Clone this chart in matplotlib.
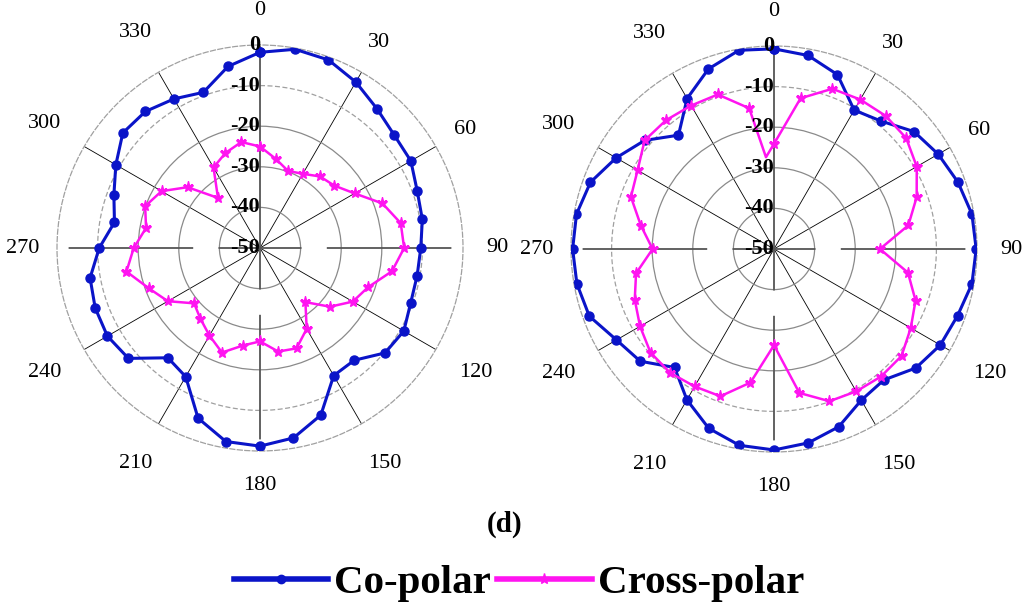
import numpy as np
import matplotlib
matplotlib.use("Agg")
import matplotlib.pyplot as plt
from matplotlib.lines import Line2D

plt.rcParams['font.family'] = ['Liberation Serif', 'DejaVu Serif']

# angles in degrees, 10 degree step
angles = np.arange(0, 360, 10)

# left pattern
left_co = [-1.8, -0.3, -0.7, -2.8, -5.2, -6.8, -7.1, -8.8, -9.4, -10.4, -10.7, -10.5,
           -9.1, -9.8, -13.9, -13.7, -6.2, -2.5, -1.2, -1.6, -5.4, -13.4, -14.7, -7.7,
           -6.6, -6.8, -7.5, -10.4, -13.6, -11.7, -9.0, -5.9, -6.1, -7.6, -9.2, -4.6]
left_cross = [-25.0, -27.7, -29.8, -28.9, -27.0, -26.1, -23.1, -17.9, -14.8, -14.5, -17.0, -21.7,
              -23.6, -27.5, -32.6, -27.0, -23.7, -24.1, -27.0, -25.6, -22.6, -25.1, -27.2, -28.8,
              -23.8, -20.9, -16.6, -18.9, -21.5, -19.9, -22.0, -26.7, -33.9, -27.1, -25.1, -23.5]

# right pattern
right_co = [-0.7, -1.6, -4.3, -10.5, -8.9, -5.0, -3.3, -1.8, -0.5, -0.2, -0.5, -1.9,
            -2.7, -4.4, -7.9, -7.0, -3.4, -1.5, -0.5, -0.9, -3.0, -7.1, -11.9, -7.0,
            -5.2, -1.6, -0.7, -0.4, -0.6, -1.9, -5.1, -8.4, -13.4, -7.2, -2.8, -0.3]
right_cross = [-24.1, -12.3, -8.0, -7.5, -7.2, -7.5, -9.4, -12.6, -16.4, -23.9, -16.5, -12.9,
               -11.1, -9.0, -9.0, -9.5, -10.1, -14.0, -26.3, -16.6, -11.4, -10.9, -10.2, -10.3,
               -11.9, -13.5, -15.5, -20.1, -16.7, -12.5, -11.2, -8.4, -8.6, -9.2, -9.5, -14.8]
# extra sample just before 360 on the right cross-polar trace
right_cross_extra_angle = 355
right_cross_extra_val = -27.3

r_ticks = [0, -10, -20, -30, -40, -50]
theta_ticks = np.arange(0, 360, 30)

BLUE = '#0a14c8'
PINK = '#ff14f0'


def closed(th, vals):
    return np.deg2rad(np.append(th, 360)), np.append(vals, vals[0])


def setup(ax):
    ax.set_theta_zero_location('N')
    ax.set_theta_direction(-1)
    ax.set_ylim(-50, 0)
    ax.set_xticks(np.deg2rad([30, 60, 120, 150, 210, 240, 300, 330]))
    ax.set_xticklabels([])
    ax.set_yticks([-40, -30, -20, -10])
    ax.set_yticklabels([])
    ax.xaxis.grid(True, color='black', lw=0.6, ls='-')
    ax.yaxis.grid(True, color='#8a8a8a', lw=0.9)
    for g, val in zip(ax.yaxis.get_gridlines(), [-40, -30, -20, -10]):
        if val == -10:
            g.set_linestyle((0, (4, 2)))
            g.set_color('#a0a0a0')
    ax.spines['polar'].set_linestyle((0, (4, 2)))
    ax.spines['polar'].set_color('#a0a0a0')
    ax.spines['polar'].set_linewidth(0.9)
    ax.set_axisbelow(True)
    # main axes lines
    ax.plot([0, 0], [-50, 0], color='#555555', lw=1.3, zorder=1)
    for a in [90, 180, 270]:
        ax.plot(np.deg2rad([a, a]), [-50, 0], color='#555555', lw=1.3,
                dashes=(23, 14, 69, 12, 40, 10), zorder=1)
    for t in theta_ticks:
        lab = str(t)
        rr = 11.3 if (len(lab) == 3 and t % 90 != 0) else 8.4
        ax.text(np.deg2rad(t), rr, lab, ha='center', va='center', fontsize=16,
                clip_on=False)
    for r in r_ticks:
        ax.text(0, r, str(r), ha='right', va='center', fontsize=16, fontweight='bold',
                zorder=5, clip_on=False)


fig = plt.figure(figsize=(10.24, 6.07), dpi=100)
W, H = 1024, 607
R = 203
axL = fig.add_axes([(260 - R) / W, (H - 248 - R) / H, 2 * R / W, 2 * R / H], projection='polar')
axR = fig.add_axes([(774 - R) / W, (H - 249 - R) / H, 2 * R / W, 2 * R / H], projection='polar')

for ax in (axL, axR):
    setup(ax)

th, v = closed(angles, left_co)
axL.plot(th, v, color=BLUE, lw=2.2, marker='o', ms=6.5, zorder=3)
th, v = closed(angles, left_cross)
axL.plot(th, v, color=PINK, lw=1.8, marker='*', ms=8, zorder=3)

th, v = closed(angles, right_co)
axR.plot(th, v, color=BLUE, lw=2.2, marker='o', ms=6.5, zorder=3)
th_rc = np.deg2rad(np.append(angles, [right_cross_extra_angle, 360]))
v_rc = np.append(right_cross, [right_cross_extra_val, right_cross[0]])
axR.plot(th_rc, v_rc, color=PINK, lw=1.8, marker='*', ms=8, zorder=4,
         markevery=list(range(len(angles))))

fig.text(505 / W, 1 - 524 / H, '(d)', ha='center', va='center', fontsize=21,
         fontweight='bold')

handles = [Line2D([], [], color=BLUE, lw=4, marker='o', ms=6),
           Line2D([], [], color=PINK, lw=4, marker='*', ms=8)]
fig.legend(handles, ['Co-polar', 'Cross-polar'], loc='center',
           bbox_to_anchor=(519 / W, 1 - 583 / H), ncol=2, frameon=False,
           prop={'weight': 'bold', 'size': 29.5}, handlelength=2.3,
           handletextpad=0.15, columnspacing=0.15)

fig.savefig('out.png', dpi=100)
